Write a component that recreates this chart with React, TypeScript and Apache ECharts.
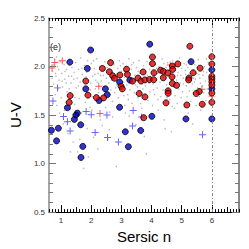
import React, { useEffect, useRef } from "react";
import * as echarts from "echarts";

// Gray background sample (Sersic n, U-V)
const grayPoints: number[][] = [
  [0.72,1.95],[0.75,1.82],[0.78,2.08],[0.8,1.71],[0.83,1.9],[0.86,1.6],[0.88,2.0],[0.9,1.77],[0.93,1.86],[0.95,1.52],
  [0.97,2.05],[1.0,1.68],[1.02,1.93],[1.05,1.79],[1.07,1.41],[1.1,2.02],[1.12,1.87],[1.15,1.63],[1.18,1.97],[1.2,1.74],
  [1.22,1.31],[1.25,1.9],[1.28,2.07],[1.3,1.56],[1.33,1.83],[1.36,1.99],[1.38,1.7],[1.4,1.22],[1.43,1.94],[1.45,1.61],
  [1.48,2.04],[1.5,1.78],[1.53,1.88],[1.55,1.12],[1.58,1.97],[1.6,1.67],[1.63,1.84],[1.65,2.09],[1.68,1.52],[1.7,1.92],
  [1.73,1.75],[1.75,0.95],[1.78,2.01],[1.8,1.63],[1.83,1.89],[1.86,1.36],[1.88,2.06],[1.9,1.72],[1.93,1.95],[1.96,1.58],
  [1.98,1.83],[2.0,2.03],[2.03,1.69],[2.05,1.9],[2.08,1.27],[2.1,1.98],[2.13,1.77],[2.15,1.86],[2.18,2.08],[2.2,1.62],
  [2.23,1.93],[2.25,1.73],[2.28,2.0],[2.3,1.45],[2.33,1.85],[2.35,1.97],[2.38,1.66],[2.4,1.91],[2.43,1.79],[2.45,2.05],
  [2.48,1.58],[2.5,1.88],[2.53,1.99],[2.55,1.71],[2.58,1.83],[2.6,1.35],[2.63,2.07],[2.65,1.76],[2.68,1.94],[2.7,1.64],
  [2.73,1.87],[2.75,2.02],[2.78,1.73],[2.8,1.9],[2.83,0.97],[2.85,1.81],[2.88,1.98],[2.9,1.68],[2.93,2.06],[2.95,1.85],
  [2.98,1.6],[3.0,1.95],[3.03,1.78],[3.05,2.03],[3.08,1.7],[3.1,1.89],[3.13,1.52],[3.15,2.0],[3.18,1.81],[3.2,1.93],
  [3.23,1.66],[3.25,2.08],[3.28,1.76],[3.3,1.87],[3.33,1.97],[3.35,1.62],[3.38,1.84],[3.4,2.04],[3.43,1.73],[3.45,1.91],
  [3.48,1.4],[3.5,1.99],[3.53,1.79],[3.55,1.68],[3.58,2.06],[3.6,1.88],[3.63,1.75],[3.65,1.96],[3.68,1.57],[3.7,1.83],
  [3.73,2.01],[3.75,1.7],[3.78,1.92],[3.8,1.8],[3.83,1.1],[3.85,2.05],[3.88,1.65],[3.9,1.86],[3.93,1.97],[3.95,1.74],
  [3.98,1.9],[4.0,2.07],[4.03,1.6],[4.05,1.82],[4.08,1.95],[4.1,1.71],[4.13,2.02],[4.15,1.87],[4.18,1.78],[4.2,1.93],
  [4.23,1.55],[4.25,2.0],[4.28,1.84],[4.3,1.69],[4.33,1.96],[4.35,2.08],[4.38,1.76],[4.4,1.89],[4.43,1.63],[4.45,1.36],
  [4.48,1.99],[4.5,1.81],[4.53,2.04],[4.55,1.72],[4.58,1.91],[4.6,1.66],[4.63,1.85],[4.65,1.97],[4.68,1.59],[4.7,2.06],
  [4.73,1.79],[4.75,1.9],[4.78,1.7],[4.8,2.01],[4.83,1.86],[4.85,1.62],[4.88,1.94],[4.9,1.77],[4.93,2.09],[4.95,1.83],
  [4.98,1.68],[5.0,1.98],[5.03,1.74],[5.05,1.88],[5.08,2.03],[5.1,1.58],[5.13,1.92],[5.15,1.8],[5.18,1.69],[5.2,1.99],
  [5.23,1.86],[5.25,1.75],[5.28,2.05],[5.3,1.64],[5.33,1.9],[5.35,1.82],[5.38,1.96],[5.4,1.72],[5.43,2.02],[5.45,1.87],
  [5.48,1.6],[5.5,1.93],[5.53,1.78],[5.55,2.07],[5.58,1.69],[5.6,1.88],[5.63,1.55],[5.65,1.97],[5.68,1.8],[5.7,1.91],
  [5.73,1.73],[5.75,2.0],[5.78,1.85],[5.8,1.65],[5.83,1.94],[5.85,1.77],[5.88,2.04],[5.9,1.89],[5.93,1.7],[5.95,1.83],
  [0.7,1.88],[0.85,2.1],[1.17,1.83],[1.62,1.25],[2.22,1.15],[2.41,1.96],[2.66,1.86],[3.16,1.92],[3.47,1.81],[3.56,1.95],
  [3.92,1.83],[4.12,1.92],[4.27,1.97],[4.46,1.87],[4.57,1.95],[4.97,1.91],[5.12,1.96],[5.42,1.84],[2.86,1.93],[2.12,1.92],
  [1.74,1.87],[1.35,1.9],[3.06,1.84],[4.77,1.96],[5.57,1.92],[4.42,1.45],[1.9,1.07],[3.26,1.49],[5.36,1.41],[2.56,1.25],
  [0.74,2.02],[0.81,1.93],[0.92,1.97],[1.03,1.85],[1.13,1.95],[1.27,1.77],[1.42,1.87],[1.57,1.8],[1.69,1.98],[1.85,1.94],
  [1.97,1.76],[2.07,2.06],[2.19,1.84],[2.31,1.91],[2.44,1.72],[2.57,1.94],[2.69,2.04],[2.81,1.78],[2.97,2.01],[3.09,1.95],
  [3.21,1.71],[3.34,2.02],[3.44,1.86],[3.61,1.93],[3.71,1.77],[3.86,1.91],[3.97,2.03],[4.06,1.76],[4.17,1.98],[4.31,1.9],
  [4.41,2.03],[4.51,1.68],[4.62,1.9],[4.72,1.99],[4.86,1.91],[4.96,2.04],[5.06,1.82],[5.16,2.02],[5.27,1.93],[5.39,1.88],
  [5.51,1.99],[5.62,1.83],[5.72,1.95],[5.82,2.08],[5.92,1.97],[2.02,1.55],[2.61,1.53],[3.11,1.6],[3.64,1.62],[4.21,1.66],
  [4.76,1.57],[5.21,1.52],[5.71,1.6],[1.11,1.55],[1.46,1.68],[2.36,1.39],[3.76,1.28],[4.66,1.33],[1.31,1.12],[2.71,1.48],
];

const blueCircles: number[][] = [
  [1.98,2.17],[1.29,2.045],[1.87,1.98],[1.82,1.77],[2.47,1.77],[2.53,1.71],[2.26,1.65],[2.94,1.58],[2.94,1.84],[3.28,1.86],
  [1.21,1.576],[1.54,1.52],[1.49,1.5],[1.44,1.455],[1.65,1.4],[0.68,1.343],[0.91,1.364],[0.85,1.234],[1.72,1.177],
  [1.66,1.063],[3.13,1.328],[3.23,1.174],[3.64,1.341],[4.01,1.487],[3.94,2.23],[5.31,2.05],[5.14,1.46],[6.0,1.967],[6.0,1.77],
  [6.0,1.46],
];

const redCircles: number[][] = [
  [1.3,1.7],[1.27,1.63],[1.82,1.85],[1.89,1.705],[2.37,1.98],[2.64,2.04],[2.6,1.946],[2.71,1.904],[2.77,1.879],[2.95,1.912],
  [3.17,1.972],[3.2,1.919],[2.99,1.796],[3.03,1.77],[2.17,1.68],[2.41,1.677],[4.03,2.098],[4.03,2.03],[3.72,1.944],[4.08,1.936],
  [4.3,1.962],[4.39,1.95],[4.54,1.934],[4.69,2.005],[4.87,2.027],[4.7,1.97],[4.68,1.894],[4.39,1.884],[3.55,1.881],[3.65,1.85],
  [3.78,1.862],[3.93,1.866],[4.07,1.864],[3.37,1.85],[4.69,1.826],[4.83,1.806],[4.55,1.75],[4.55,1.724],[3.59,1.722],[3.78,1.687],
  [5.27,2.209],[5.61,1.983],[5.38,1.936],[5.24,1.882],[5.23,1.862],[5.58,1.742],[5.48,1.722],[4.48,1.626],[5.17,1.604],[5.68,1.611],
  [3.74,1.473],[6.0,2.101],[6.0,2.025],[6.0,1.899],[6.0,1.874],[6.0,1.843],[6.0,1.808],[6.0,1.727],[6.0,1.631],
];

const redPlus: number[][] = [
  [0.79,2.042],[1.04,2.06],[0.7,1.985],[2.25,1.796],[2.29,1.515],[4.62,2.015],[5.67,1.766],[6.0,1.695],
];

const bluePlus: number[][] = [
  [0.88,1.78],[0.73,1.644],[1.08,1.485],[1.21,1.43],[1.3,1.335],[1.83,1.537],[2.0,1.503],[2.52,1.5],[2.13,1.321],[2.54,1.268],
  [2.9,1.222],[3.39,1.547],[3.67,1.48],[3.37,1.386],[5.69,1.298],
];

const xMin = 0.6;
const xMax = 6.9;
const yMin = 0.5;
const yMax = 2.5;
const xMajorTicks = [1, 2, 3, 4, 5, 6];
const xHalfTicks = [1.5, 2.5, 3.5, 4.5, 5.5, 6.5];
const panelLabel = "(e)";

const PLUS = "path://M0.43,0 H0.57 V0.43 H1 V0.57 H0.57 V1 H0.43 V0.57 H0 V0.43 H0.43 Z";
const FONT = "Liberation Sans";

function xAxisDef(position: string, len: number, showLine: boolean, tickValues: number[] | null, showLabel: boolean, name?: string) {
  const ax: any = {
    type: "value",
    position,
    min: xMin,
    max: xMax,
    splitLine: { show: false },
    axisLine: { show: showLine, onZero: false, lineStyle: { color: "#000", width: 1 } },
    axisTick: { show: true, inside: true, length: len, lineStyle: { color: "#000", width: 1 } },
    axisLabel: {
      show: showLabel,
      margin: 4,
      fontSize: 8,
      color: "#333",
      fontFamily: FONT,
      formatter: (v: number) => String(Math.round(v)),
    },
    name: name || "",
    nameLocation: "middle",
    nameGap: 13,
    nameTextStyle: { fontSize: 15, color: "#000", fontFamily: FONT },
  };
  if (tickValues) {
    ax.axisTick.customValues = tickValues;
    if (showLabel) ax.axisLabel.customValues = tickValues;
  } else {
    ax.interval = 0.1;
  }
  return ax;
}

function yAxisDef(position: string, showLabel: boolean, lineWidth: number) {
  return {
    type: "value",
    position,
    min: yMin,
    max: yMax,
    interval: 0.5,
    splitLine: { show: false },
    axisLine: { show: true, onZero: false, lineStyle: { color: "#888", width: lineWidth } },
    axisTick: { show: true, inside: true, length: 7, lineStyle: { color: "#777", width: 1 } },
    minorTick: { show: true, splitNumber: 5, length: 4, lineStyle: { color: "#777", width: 1 } },
    axisLabel: {
      show: showLabel,
      margin: 4,
      fontSize: 8,
      color: "#333",
      fontFamily: FONT,
      formatter: (v: number) => v.toFixed(1),
    },
    name: showLabel ? "U-V" : "",
    nameLocation: "middle",
    nameGap: 20,
    nameTextStyle: { fontSize: 15, color: "#000", fontFamily: FONT },
  };
}

export default function App() {
  const ref = useRef<HTMLDivElement>(null);
  useEffect(() => {
    if (!ref.current) return;
    const chart = echarts.init(ref.current, null, { renderer: "svg" });
    const option: any = {
      animation: false,
      backgroundColor: "#fff",
      grid: { left: 40, top: 18, right: 10, bottom: 33 },
      xAxis: [
        xAxisDef("bottom", 7, true, xMajorTicks, true, "Sersic n"),
        xAxisDef("bottom", 5, false, xHalfTicks, false),
        xAxisDef("bottom", 3, false, null, false),
        xAxisDef("top", 7, true, xMajorTicks, false),
        xAxisDef("top", 5, false, xHalfTicks, false),
        xAxisDef("top", 3, false, null, false),
      ],
      yAxis: [yAxisDef("left", true, 1.5), yAxisDef("right", false, 2)],
      graphic: [
        {
          type: "text",
          left: 50,
          top: 42,
          style: { text: panelLabel, fontSize: 9, fill: "#222", fontFamily: FONT },
        },
      ],
      series: [
        {
          type: "scatter",
          xAxisIndex: 0,
          yAxisIndex: 0,
          data: grayPoints,
          symbolSize: 1.5,
          itemStyle: { color: "#a8a8a8" },
          z: 1,
          markLine: {
            silent: true,
            symbol: "none",
            label: { show: false },
            lineStyle: { color: "#888", width: 1, type: [3, 2, 1, 2] },
            data: [{ xAxis: 6 }],
          },
        },
        {
          type: "scatter",
          data: bluePlus,
          symbol: PLUS,
          symbolSize: 7,
          itemStyle: { color: "#3c3cff" },
          z: 2,
        },
        {
          type: "scatter",
          data: redPlus,
          symbol: PLUS,
          symbolSize: 7,
          itemStyle: { color: "#ff2a2a" },
          z: 2,
        },
        {
          type: "scatter",
          data: blueCircles,
          symbol: "circle",
          symbolSize: 6,
          itemStyle: { color: "#0000c8", borderColor: "#000", borderWidth: 1 },
          z: 3,
        },
        {
          type: "scatter",
          data: redCircles,
          symbol: "circle",
          symbolSize: 6,
          itemStyle: { color: "#e60000", borderColor: "#000", borderWidth: 1 },
          z: 4,
        },
      ],
    };
    chart.setOption(option);
    return () => chart.dispose();
  }, []);
  return (
    <div
      ref={ref}
      style={{ position: "fixed", left: 0, top: 0, width: 249, height: 249, background: "#fff" }}
    />
  );
}
